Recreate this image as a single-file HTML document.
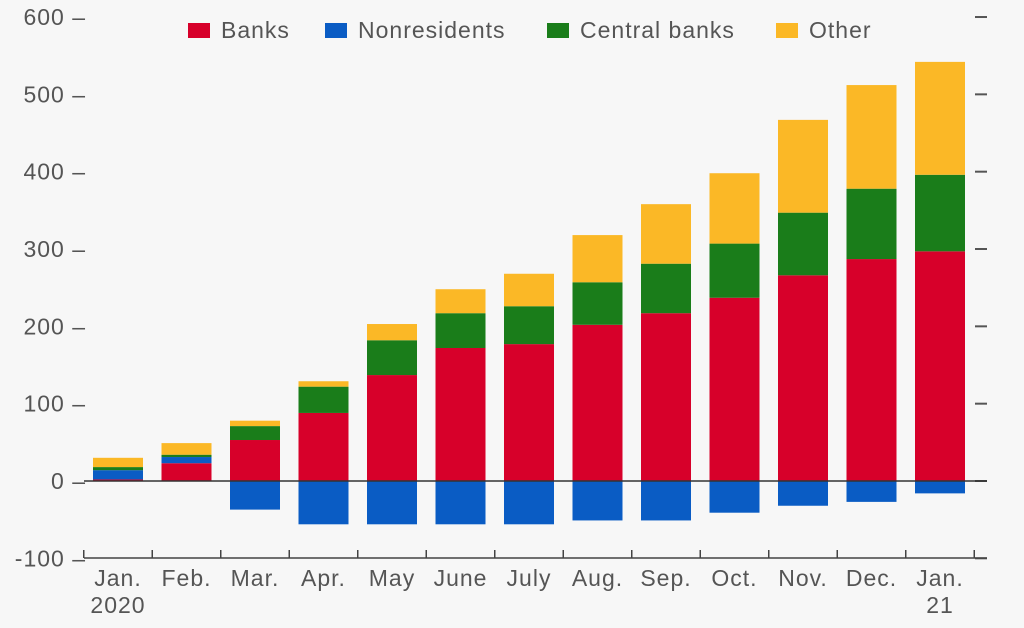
<!DOCTYPE html>
<html><head><meta charset="utf-8"><style>
body{margin:0;background:#f7f7f7;}
svg{display:block;font-family:"Liberation Sans",sans-serif;}
</style></head><body>
<svg id="chart" width="1024" height="628">
<rect width="1024" height="628" fill="#f7f7f7"/>
</svg>
<script>
const categories=["Jan.","Feb.","Mar.","Apr.","May","June","July","Aug.","Sep.","Oct.","Nov.","Dec.","Jan."];
const subLabels=["2020","","","","","","","","","","","","21"];
const banks=[2,23,53,88,137,172,177,202,217,237,266,287,297];
const nonresidents=[12,8,-37,-56,-56,-56,-56,-51,-51,-41,-32,-27,-16];
const centralBanks=[4,3,18,34,45,45,49,55,64,70,81,91,99];
const other=[12,15,7,7,21,31,42,61,77,91,120,134,146];
const yTicks=[600,500,400,300,200,100,0,-100];
const seriesNames=["Banks","Nonresidents","Central banks","Other"];
const colors=["#d7002a","#0a5cc4","#1a7d1a","#fbb826"];

const NS="http://www.w3.org/2000/svg";
const svg=document.getElementById('chart');
const y=v=>481-v*0.7733;
const xc=i=>118+i*68.5;
const BW=50;
function mk(t,a,p){const e=document.createElementNS(NS,t);for(const k in a)e.setAttribute(k,a[k]);(p||svg).appendChild(e);return e;}

yTicks.forEach(v=>{
  const t=mk('text',{x:86,y:y(v)+8,'text-anchor':'end','font-size':23,'letter-spacing':1,fill:'#555'});
  t.textContent=v+" \u2013";
  
  
  const r=mk('line',{x1:975,x2:987,y1:y(v),y2:y(v),stroke:'#555','stroke-width':2});
  
  
});

categories.forEach((c,i)=>{
  const x=xc(i)-BW/2;
  let base=0;
  const nres=nonresidents[i];
  const posParts=[[banks[i],0],[nres>0?nres:0,1],[centralBanks[i],2],[other[i],3]];
  posParts.forEach(([v,ci])=>{
    if(v<=0)return;
    const r=mk('rect',{x:x,y:y(base+v),width:BW,height:v*0.7733,fill:colors[ci]});
    
    
    base+=v;
  });
  if(nres<0){
    const r=mk('rect',{x:x,y:y(0),width:BW,height:-nres*0.7733,fill:colors[1]});
    
    
  }
  const t=mk('text',{x:xc(i),y:586,'text-anchor':'middle','font-size':23,'letter-spacing':1,fill:'#555'});
  t.textContent=c;
  
  
  if(subLabels[i]){
    const s=mk('text',{x:xc(i),y:613,'text-anchor':'middle','font-size':23,'letter-spacing':1,fill:'#555'});
    s.textContent=subLabels[i];
    
    
  }
});
for(let i=0;i<=categories.length;i++){
  const tx=xc(i)-34.25;
  const tk=mk('line',{x1:tx,x2:tx,y1:550,y2:558,stroke:'#444','stroke-width':1.5});
  
  
}
const zl=mk('line',{x1:84,x2:987,y1:y(0),y2:y(0),stroke:'#333','stroke-width':1.5});


const xa=mk('line',{x1:84,x2:987,y1:558,y2:558,stroke:'#444','stroke-width':1.5});



const legX=[188,325,547,776];
seriesNames.forEach((n,i)=>{
  const g=mk('g',{});
  
  
  mk('rect',{x:legX[i],y:23,width:22,height:15,fill:colors[i]},g);
  const t=mk('text',{x:legX[i]+33,y:38,'font-size':23,'letter-spacing':1,fill:'#555'},g);
  t.textContent=n;
});
</script>
</body></html>
